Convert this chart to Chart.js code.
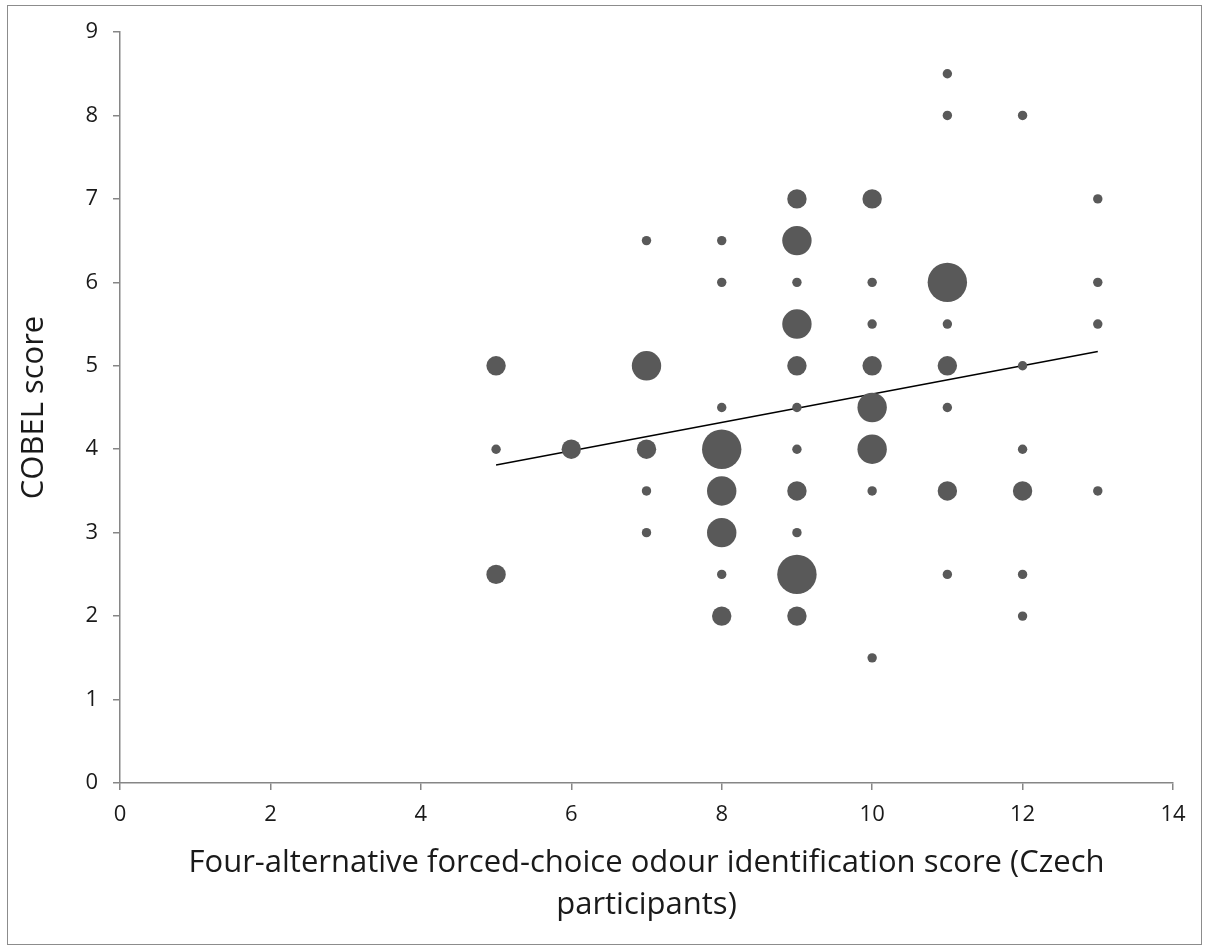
<!DOCTYPE html>
<html>
<head>
<meta charset="utf-8">
<script src="https://cdn.jsdelivr.net/npm/chart.js@4/dist/chart.umd.min.js"></script>
<style>
  html, body { margin: 0; padding: 0; background: #fff; }
  #wrap { position: relative; width: 1205px; height: 947px; }
  #frame { position: absolute; left: 7px; top: 5px; width: 1195px; height: 940px; border: 1px solid #8c8c8c; box-sizing: border-box; pointer-events: none; }
</style>
</head>
<body>
<div id="wrap">
  <canvas id="bubble-chart" width="1205" height="947"></canvas>
  <div id="frame"></div>
</div>
<script>
// odour identification score (x), COBEL score (y), number of participants at that point
const idScores = [5, 5, 5,
  6,
  7, 7, 7, 7, 7,
  8, 8, 8, 8, 8, 8, 8, 8,
  9, 9, 9, 9, 9, 9, 9, 9, 9, 9, 9,
  10, 10, 10, 10, 10, 10, 10, 10,
  11, 11, 11, 11, 11, 11, 11, 11,
  12, 12, 12, 12, 12, 12,
  13, 13, 13, 13];
const cobelScores = [5, 4, 2.5,
  4,
  6.5, 5, 4, 3.5, 3,
  6.5, 6, 4.5, 4, 3.5, 3, 2.5, 2,
  7, 6.5, 6, 5.5, 5, 4.5, 4, 3.5, 3, 2.5, 2,
  7, 6, 5.5, 5, 4.5, 4, 3.5, 1.5,
  8.5, 8, 6, 5.5, 5, 4.5, 3.5, 2.5,
  8, 5, 4, 3.5, 2.5, 2,
  7, 6, 5.5, 3.5];
const counts = [2, 1, 2,
  2,
  1, 3, 2, 1, 1,
  1, 1, 1, 4, 3, 3, 1, 2,
  2, 3, 1, 3, 2, 1, 1, 2, 1, 4, 2,
  2, 1, 1, 2, 3, 3, 1, 1,
  1, 1, 4, 1, 2, 1, 2, 1,
  1, 1, 1, 2, 1, 1,
  1, 1, 1, 1];

// linear trend line end points
const trendX = [5, 13];
const trendY = [3.81, 5.17];

const xTicks = [0, 2, 4, 6, 8, 10, 12, 14];
const yTicks = [0, 1, 2, 3, 4, 5, 6, 7, 8, 9];

const X_TITLE = ['Four-alternative forced-choice odour identification score (Czech', 'participants)'];
const Y_TITLE = 'COBEL score';

const DOT_COLOR = '#595959',
  AXIS_COLOR = '#868686',
  TEXT_COLOR = '#1a1a1a',
  FONT = '"Open Sans", "Liberation Sans", sans-serif';

let bubbles = [];
for (let i = 0; i < idScores.length; i++)
  bubbles.push({ x: idScores[i], y: cobelScores[i], r: counts[i] * 5 - 0.3 });

let trend = [];
for (let i = 0; i < trendX.length; i++) trend.push({ x: trendX[i], y: trendY[i] });

function axisGrid() {
  return {
    drawOnChartArea: false,
    drawTicks: true,
    tickLength: 7,
    color: AXIS_COLOR,
    lineWidth: 1.5
  };
}

new Chart(document.getElementById('bubble-chart'), {
  type: 'bubble',
  data: {
    datasets: [{
      data: bubbles,
      backgroundColor: DOT_COLOR,
      borderColor: DOT_COLOR,
      borderWidth: 0,
      hoverRadius: 0
    }, {
      type: 'line',
      data: trend,
      borderColor: '#000',
      borderWidth: 1.5,
      pointRadius: 0,
      fill: false
    }]
  },
  options: {
    responsive: false,
    animation: false,
    events: [],
    layout: { padding: { left: 0, right: 32, top: 32, bottom: 0 } },
    plugins: { legend: { display: false }, tooltip: { enabled: false } },
    scales: {
      x: {
        type: 'linear',
        min: 0, max: 14,
        afterBuildTicks: function (s) { s.ticks = xTicks.map(v => ({ value: v })); },
        afterFit: function (s) { s.height = 947 - 783; },
        grid: axisGrid(),
        border: { color: AXIS_COLOR, width: 1.5 },
        ticks: { color: TEXT_COLOR, font: { family: FONT, size: 22 }, padding: 12, maxRotation: 0 },
        title: {
          display: true,
          text: X_TITLE,
          color: TEXT_COLOR,
          font: { family: FONT, size: 31, lineHeight: 1.35 },
          padding: { top: 0, bottom: 21 }
        }
      },
      y: {
        type: 'linear',
        min: 0, max: 9,
        afterBuildTicks: function (s) { s.ticks = yTicks.map(v => ({ value: v })); },
        afterFit: function (s) { s.width = 120; },
        grid: axisGrid(),
        border: { color: AXIS_COLOR, width: 1.5 },
        ticks: { color: TEXT_COLOR, font: { family: FONT, size: 22 }, padding: 15 },
        title: {
          display: true,
          text: Y_TITLE,
          color: TEXT_COLOR,
          font: { family: FONT, size: 31, lineHeight: 1.2 },
          padding: { top: 16, bottom: 0 }
        }
      }
    }
  }
});
</script>
</body>
</html>
